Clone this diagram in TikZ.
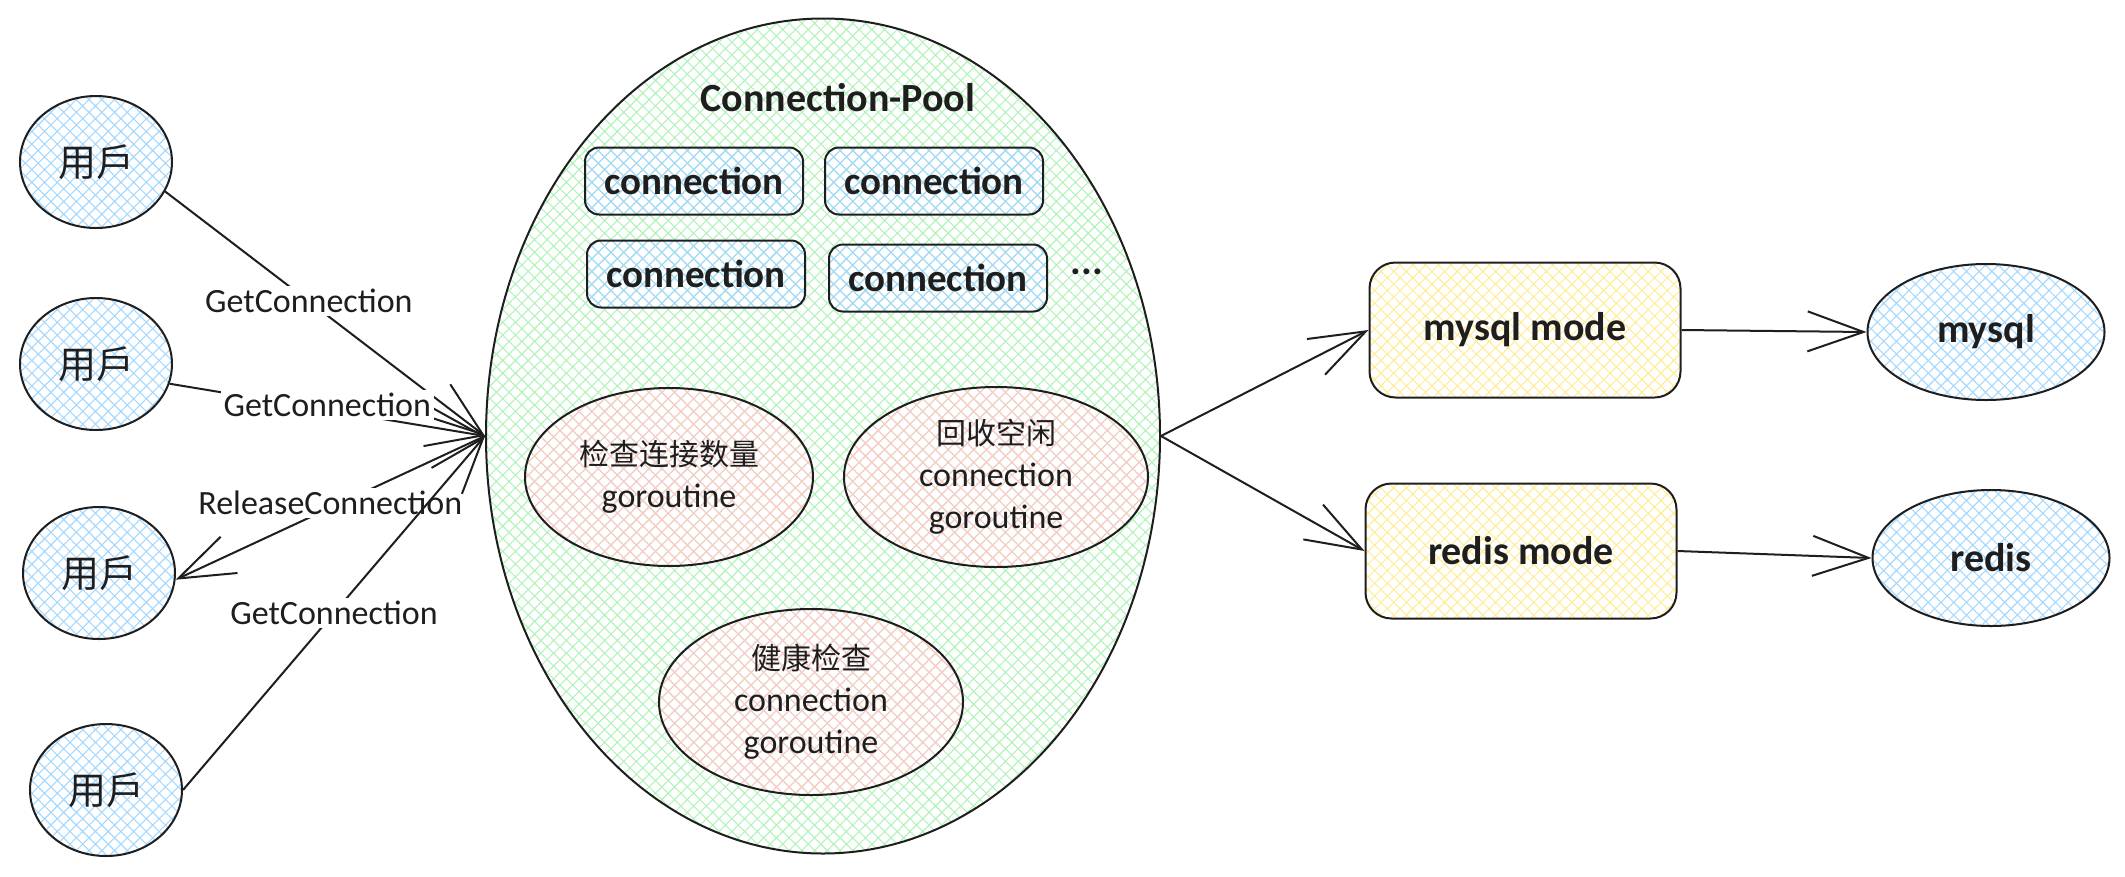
\documentclass[tikz,border=0pt]{standalone}
\usepackage{fontspec}
\setmainfont{Carlito}
\newfontfamily\cjk{Noto Sans CJK SC}
\usetikzlibrary{shapes.geometric,arrows.meta,patterns.meta}
\definecolor{ink}{HTML}{1E1E1E}
\definecolor{hblue}{HTML}{A5D8FF}
\definecolor{hgreen}{HTML}{B2F2BB}
\definecolor{hred}{HTML}{FFC9C9}
\definecolor{hyellow}{HTML}{FFEC99}
\begin{document}
\begin{tikzpicture}[x=1pt,y=-1pt,
  >={Straight Barb[length=56pt,width=40pt]},
  every node/.style={inner sep=0pt, text=ink},
  hatch/.style={pattern={Hatch[angle=45,distance=9pt,line width=1.1pt]},pattern color=#1},
  shp/.style={draw=ink, line width=2pt},
  user/.style={shp, ellipse, minimum width=152pt, minimum height=132pt, hatch=hblue,
    font=\cjk\fontsize{38}{44}\selectfont},
  pool/.style={shp, ellipse, minimum width=674pt, minimum height=835pt, hatch=hgreen},
  conn/.style={shp, rounded corners=14pt, minimum width=218pt, minimum height=67pt, hatch=hblue,
    font=\fontsize{39}{44}\selectfont\bfseries},
  gor/.style={shp, ellipse, hatch=hred, align=center, font=\fontsize{34}{42}\selectfont},
  mode/.style={shp, rounded corners=26pt, minimum width=311pt, minimum height=135pt, hatch=hyellow,
    font=\fontsize{40}{44}\selectfont\bfseries},
  db/.style={shp, ellipse, minimum width=237pt, minimum height=136pt, hatch=hblue,
    font=\fontsize{40}{44}\selectfont\bfseries},
  lbl/.style={fill=white, inner sep=3pt, font=\fontsize{34}{38}\selectfont},
  link/.style={draw=ink, line width=2pt, ->}
]
\useasboundingbox (0,0) rectangle (2125,876);

% users
\node[user] (u1) at (96,162) {用戶};
\node[user] (u2) at (96,364) {用戶};
\node[user] (u3) at (99,573) {用戶};
\node[user] (u4) at (106,790) {用戶};

% pool
\node[pool] (pool) at (823,436) {};
\node[font=\fontsize{40}{44}\selectfont\bfseries] (title) at (838,98) {Connection-Pool};
\node[conn] (c1) at (694,181) {connection};
\node[conn] (c2) at (934,181) {connection};
\node[conn] (c3) at (696,274) {connection};
\node[conn] (c4) at (938,278) {connection};
\node[font=\fontsize{40}{44}\selectfont\bfseries] (dots) at (1087,272) {...};

\node[gor, minimum width=288pt, minimum height=178pt] (e1) at (669,477)
  {{\cjk\fontsize{30}{42}\selectfont 检查连接数量}\\goroutine};
\node[gor, minimum width=304pt, minimum height=180pt] (e2) at (996,477)
  {{\cjk\fontsize{30}{42}\selectfont 回收空闲}\\connection\\goroutine};
\node[gor, minimum width=304pt, minimum height=186pt] (e3) at (811,702)
  {{\cjk\fontsize{30}{42}\selectfont 健康检查}\\connection\\goroutine};

% modes and stores
\node[mode] (mysqlm) at (1525,330) {mysql mode};
\node[mode] (redism) at (1521,551) {redis mode};
\node[db] (mysql) at (1986,332) {mysql};
\node[db] (redis) at (1991,558) {redis};

% connectors
\draw[link] (u1.-23) -- node[lbl, pos=0.45] {GetConnection} (pool.west);
\draw[link] (u2.-15) -- node[lbl, pos=0.5, yshift=5pt] {GetConnection} (pool.west);
\draw[link] (pool.west) -- node[lbl, pos=0.5, yshift=5pt] {ReleaseConnection} (u3.-5);
\draw[link] (u4.east) -- node[lbl, pos=0.5] {GetConnection} (pool.west);

\draw[link] (pool.east) -- (mysqlm.west);
\draw[link] (pool.east) -- (redism.west);
\draw[link] (mysqlm.east) -- (mysql.west);
\draw[link] (redism.east) -- (redis.west);
\end{tikzpicture}
\end{document}
